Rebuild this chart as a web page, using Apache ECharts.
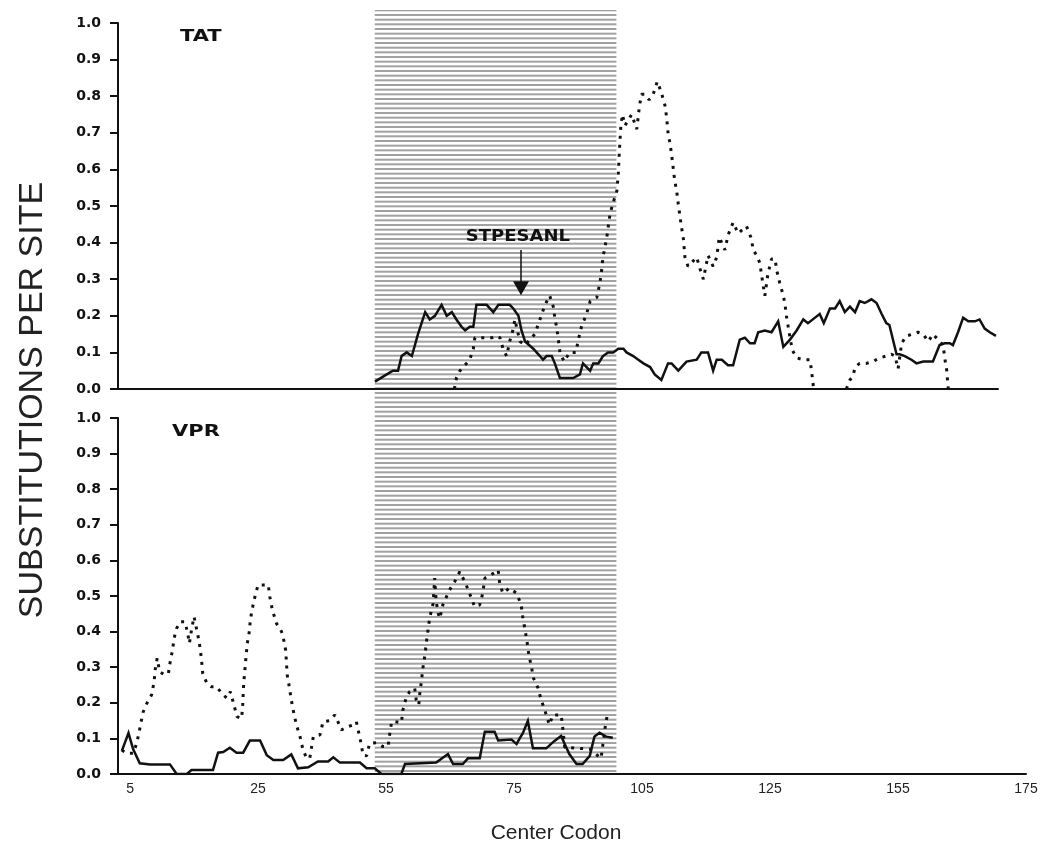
<!DOCTYPE html>
<html lang="en">
<head>
<meta charset="UTF-8">
<title>Substitutions per site</title>
<script src="https://cdn.jsdelivr.net/npm/echarts@6/dist/echarts.min.js"></script>
<style>
    html, body { margin: 0; padding: 0; background: #fff; }
    #main { width: 1043px; height: 844px; }
</style>
</head>
<body>
<div id="main"></div>
<script>
// x in codon units, ticks drawn every 25 but printed as in the original figure
var xTickValues = [5, 30, 55, 80, 105, 130, 155, 180];
var xTickLabels = ['5', '25', '55', '75', '105', '125', '155', '175'];
var xMin = 2.65, xMaxTop = 174.4, xMaxBottom = 180;
var shadeRange = [52.8, 100.0];
var arrowX = 81.3, arrowFrom = 0.38, arrowTo = 0.275;
var motifPos = [80.7, 0.415];

var tatSolid = [
    [52.8,0.02],[55.1,0.04],[56.3,0.05],[57.3,0.05],[58.0,0.09],[59.0,0.10],[60.0,0.09],[61.2,0.15],
    [62.6,0.21],[63.5,0.19],[64.5,0.20],[65.8,0.23],[66.8,0.20],[67.8,0.21],[68.7,0.19],[69.7,0.17],
    [70.4,0.16],[71.3,0.17],[72.0,0.17],[72.6,0.23],[73.3,0.23],[74.6,0.23],[75.9,0.21],[76.9,0.23],
    [77.8,0.23],[79.1,0.23],[79.8,0.22],[80.8,0.20],[81.4,0.16],[82.1,0.13],[83.7,0.11],[85.0,0.09],
    [85.6,0.08],[86.3,0.09],[87.3,0.09],[87.9,0.07],[88.9,0.03],[90.2,0.03],[91.5,0.03],[92.8,0.04],
    [93.4,0.07],[94.1,0.06],[94.8,0.05],[95.4,0.07],[96.4,0.07],[97.3,0.09],[98.3,0.10],[99.3,0.10],
    [100.3,0.11],[101.3,0.11],[101.9,0.10],[103.2,0.09],[104.2,0.08],[105.2,0.07],[106.5,0.06],[107.4,0.04],
    [108.7,0.025],[110.0,0.07],[110.7,0.07],[112.0,0.05],[113.6,0.075],[115.6,0.08],[116.5,0.10],[117.8,0.10],
    [118.8,0.05],[119.5,0.08],[120.5,0.08],[121.7,0.065],[122.7,0.065],[124.0,0.135],[125.0,0.14],[126.0,0.125],
    [126.9,0.125],[127.6,0.155],[128.9,0.16],[130.2,0.155],[131.5,0.185],[132.5,0.115],[133.8,0.135],[135.1,0.16],
    [136.4,0.19],[137.3,0.18],[138.7,0.195],[139.6,0.205],[140.4,0.18],[141.6,0.22],[142.6,0.22],[143.5,0.24],
    [144.5,0.21],[145.5,0.225],[146.5,0.21],[147.4,0.24],[148.4,0.235],[149.7,0.245],[150.7,0.235],[151.7,0.205],
    [152.6,0.18],[153.2,0.175],[154.6,0.095],[155.2,0.095],[156.2,0.09],[157.5,0.08],[158.5,0.07],[159.8,0.075],
    [161.7,0.075],[163.0,0.12],[164.0,0.125],[165.0,0.125],[165.6,0.12],[166.6,0.155],[167.6,0.195],[168.6,0.185],
    [169.9,0.185],[170.8,0.19],[171.8,0.165],[172.8,0.155],[174.0,0.145]
];

var tatDotted = [
    [68.3,0],[68.7,0.03],[69.4,0.05],[71.3,0.08],[72.0,0.11],[72.3,0.14],[73.3,0.14],[74.6,0.14],
    [75.6,0.14],[76.5,0.145],[77.2,0.14],[77.8,0.11],[78.5,0.09],[79.1,0.13],[79.8,0.165],[80.1,0.19],
    [81.1,0.13],[82.1,0.12],[83.0,0.135],[84.0,0.15],[85.0,0.19],[86.0,0.23],[86.9,0.255],[87.6,0.225],
    [87.9,0.195],[88.3,0.165],[88.6,0.135],[88.9,0.10],[89.7,0.075],[90.8,0.10],[92.0,0.10],[92.5,0.135],
    [93.1,0.17],[94.1,0.205],[94.8,0.24],[96.1,0.25],[96.7,0.29],[97.0,0.32],[97.3,0.36],[98.0,0.41],
    [98.7,0.48],[99.3,0.51],[100.0,0.54],[100.3,0.59],[100.5,0.65],[100.8,0.72],[101.1,0.75],[101.6,0.72],
    [102.9,0.75],[103.9,0.71],[104.4,0.77],[104.8,0.805],[105.5,0.805],[106.3,0.79],[107.1,0.805],[107.9,0.84],
    [108.7,0.81],[109.4,0.775],[109.7,0.745],[110.0,0.70],[110.4,0.67],[110.7,0.64],[111.0,0.605],[111.3,0.57],
    [111.7,0.54],[112.0,0.505],[112.3,0.475],[112.6,0.445],[113.0,0.41],[113.3,0.36],[113.9,0.335],[115.6,0.36],
    [116.2,0.33],[116.9,0.30],[117.8,0.365],[118.8,0.335],[119.5,0.36],[120.0,0.415],[121.1,0.38],[121.7,0.42],
    [122.7,0.455],[123.7,0.425],[125.3,0.445],[126.3,0.41],[126.6,0.38],[127.3,0.365],[127.9,0.345],[128.6,0.28],
    [128.9,0.255],[129.5,0.315],[130.2,0.355],[130.9,0.355],[131.2,0.325],[131.8,0.29],[132.4,0.26],[132.8,0.235],
    [133.1,0.20],[133.4,0.175],[133.8,0.14],[134.3,0.105],[135.1,0.085],[136.4,0.08],[137.7,0.08],[138.0,0.05],
    [138.3,0.015],[138.4,0],[141.5,'-'],
    [144.8,0],[145.5,0.025],[146.1,0.035],[146.5,0.06],[147.4,0.07],[148.7,0.07],[150.0,0.075],[151.3,0.085],
    [152.6,0.09],[153.6,0.095],[154.3,0.09],[154.9,0.055],[155.6,0.125],[156.5,0.145],[157.8,0.15],[158.8,0.155],
    [159.8,0.15],[160.8,0.13],[161.7,0.15],[162.7,0.135],[163.7,0.12],[164.0,0.085],[164.4,0.05],[164.6,0.015],
    [164.7,0]
];

var vprSolid = [
    [3.4,0.065],[4.7,0.115],[5.6,0.07],[6.9,0.03],[8.9,0.027],[12.8,0.027],[14.1,0],[16.1,0],
    [17.0,0.011],[21.2,0.011],[22.2,0.06],[23.2,0.062],[24.5,0.074],[25.8,0.06],[27.1,0.06],[28.4,0.094],
    [30.4,0.094],[31.7,0.053],[33.0,0.039],[34.9,0.039],[36.5,0.055],[37.8,0.016],[39.8,0.019],[41.7,0.035],
    [43.7,0.035],[44.7,0.047],[46.0,0.032],[49.9,0.032],[51.2,0.016],[52.8,0.016],[54.1,0],[58.0,0],
    [58.7,0.028],[64.8,0.032],[67.1,0.056],[68.1,0.028],[70.0,0.028],[71.0,0.044],[73.3,0.044],[74.3,0.119],
    [76.2,0.119],[76.9,0.094],[79.5,0.097],[80.5,0.084],[81.1,0.1],[81.7,0.114],[82.7,0.149],[83.7,0.072],
    [86.3,0.072],[87.9,0.093],[89.2,0.107],[89.9,0.084],[90.8,0.056],[92.2,0.028],[93.4,0.028],[94.8,0.051],
    [95.7,0.105],[96.7,0.116],[98.0,0.105],[99.3,0.102]
];

var vprDotted = [
    [3.4,0.067],[4.4,0.058],[5.6,0.058],[6.3,0.086],[6.8,0.119],[7.5,0.172],[8.3,0.199],[9.2,0.222],
    [9.7,0.259],[9.9,0.292],[10.3,0.325],[10.8,0.287],[11.8,0.278],[12.5,0.283],[12.8,0.311],[13.3,0.348],
    [13.6,0.381],[14.1,0.409],[14.8,0.428],[15.7,0.428],[16.2,0.4],[16.6,0.367],[17.0,0.404],[17.5,0.442],
    [17.9,0.414],[18.3,0.386],[18.7,0.353],[19.0,0.315],[19.2,0.283],[20.0,0.255],[20.9,0.245],[21.9,0.245],
    [22.9,0.227],[23.9,0.213],[24.6,0.231],[25.2,0.199],[25.9,0.161],[26.8,0.156],[27.0,0.194],[27.2,0.255],
    [27.6,0.32],[27.9,0.367],[28.3,0.4],[28.5,0.433],[28.9,0.466],[29.4,0.498],[30.0,0.531],[32.0,0.531],
    [32.3,0.498],[32.8,0.461],[33.6,0.423],[34.6,0.4],[34.9,0.386],[35.4,0.348],[35.7,0.278],[36.1,0.245],
    [36.5,0.208],[37.0,0.17],[37.5,0.138],[38.2,0.105],[38.8,0.067],[39.5,0.044],[40.1,0.044],[40.8,0.105],
    [42.1,0.11],[42.7,0.147],[44.0,0.15],[45.0,0.166],[45.6,0.147],[46.3,0.124],[47.3,0.132],[48.6,0.138],
    [49.2,0.147],[49.7,0.114],[50.2,0.081],[50.5,0.053],[51.2,0.051],[51.8,0.086],[53.1,0.088],[54.4,0.077],
    [55.4,0.077],[55.7,0.11],[56.1,0.147],[56.7,0.147],[58.0,0.144],[58.3,0.18],[59.0,0.217],[59.6,0.231],
    [60.6,0.241],[60.9,0.208],[61.4,0.194],[61.6,0.227],[61.9,0.259],[62.2,0.297],[62.6,0.334],[62.9,0.372],
    [63.2,0.404],[63.5,0.437],[64.2,0.479],[64.5,0.55],[64.8,0.484],[65.2,0.451],[65.5,0.437],[66.1,0.475],
    [67.4,0.517],[68.4,0.54],[69.4,0.568],[70.4,0.54],[71.3,0.508],[72.3,0.47],[73.3,0.475],[73.9,0.508],
    [74.3,0.55],[75.9,0.563],[76.9,0.573],[77.2,0.537],[77.8,0.508],[79.1,0.522],[80.5,0.508],[81.4,0.475],
    [81.7,0.442],[82.1,0.409],[82.5,0.376],[82.9,0.334],[83.4,0.301],[83.8,0.269],[84.7,0.241],[85.3,0.208],
    [86.0,0.18],[86.6,0.152],[86.9,0.138],[87.6,0.166],[89.2,0.166],[89.5,0.133],[89.9,0.075],[94.8,0.07],
    [97.0,0.044],[97.3,0.077],[97.9,0.142],[98.3,0.17]
];

// horizontal hatching used for the shaded codon window
function hatch() {
    var c = document.createElement('canvas');
    c.width = 8;
    c.height = 14;
    var ctx = c.getContext('2d');
    ctx.fillStyle = '#ffffff';
    ctx.fillRect(0, 0, 8, 14);
    ctx.fillStyle = '#a2a2a2';
    [0, 4.67, 9.33].forEach(function (y) { ctx.fillRect(0, y, 8, 2); });
    return c;
}

var ink = '#111';

function valueYAxis(gridIndex) {
    return {
        gridIndex: gridIndex,
        type: 'value',
        min: 0,
        max: 1,
        interval: 0.1,
        z: 4,
        axisLine: { show: true, lineStyle: { color: ink, width: 2 } },
        axisTick: { show: true, length: 8, lineStyle: { color: ink, width: 2 } },
        axisLabel: {
            margin: 17,
            color: ink,
            fontFamily: 'DejaVu Sans',
            fontWeight: 'bold',
            fontSize: 14,
            formatter: function (v) { return v.toFixed(1); }
        },
        splitLine: { show: false }
    };
}

function solid(data, idx) {
    return {
        type: 'line', xAxisIndex: idx, yAxisIndex: idx, data: data,
        showSymbol: false, z: 5, silent: true,
        lineStyle: { color: ink, width: 2.5, join: 'miter' }
    };
}

function dotted(data, idx) {
    return {
        type: 'line', xAxisIndex: idx, yAxisIndex: idx, data: data,
        showSymbol: false, z: 5, silent: true,
        lineStyle: { color: ink, width: 3, type: [3, 6], cap: 'butt' }
    };
}

var myChart = echarts.init(document.getElementById('main'));

var tatLine = solid(tatSolid, 0);
tatLine.markLine = {
    silent: true,
    symbol: ['none', 'triangle'],
    symbolSize: [16, 14],
    lineStyle: { color: ink, width: 1.5, type: 'solid' },
    label: { show: false },
    data: [[{ coord: [arrowX, arrowFrom] }, { coord: [arrowX, arrowTo] }]]
};

var option = {
    animation: false,
    backgroundColor: '#ffffff',
    grid: [
        { left: 118, right: 45, top: 23, bottom: 455 },
        { left: 118, right: 17, top: 418, bottom: 70 },
        { left: 118, right: 17, top: 10, bottom: 69 }
    ],
    xAxis: [
        {
            gridIndex: 0, type: 'value', min: xMin, max: xMaxTop, z: 4,
            axisLine: { lineStyle: { color: ink, width: 2 } },
            axisTick: { show: false },
            axisLabel: { show: false },
            splitLine: { show: false }
        },
        {
            gridIndex: 1, type: 'value', min: xMin, max: xMaxBottom, z: 4,
            axisLine: { lineStyle: { color: ink, width: 2 } },
            axisTick: { show: false },
            axisLabel: {
                customValues: xTickValues,
                margin: 8,
                color: '#222',
                fontFamily: 'Liberation Sans',
                fontSize: 14,
                formatter: function (v) { return xTickLabels[xTickValues.indexOf(v)]; }
            },
            splitLine: { show: false }
        },
        { gridIndex: 2, type: 'value', min: xMin, max: xMaxBottom, show: false }
    ],
    yAxis: [
        valueYAxis(0),
        valueYAxis(1),
        { gridIndex: 2, type: 'value', min: 0, max: 1, show: false }
    ],
    series: [
        {
            type: 'line', xAxisIndex: 2, yAxisIndex: 2, z: 1, silent: true,
            data: [[shadeRange[0], 0]], showSymbol: false,
            lineStyle: { opacity: 0 },
            markArea: {
                silent: true,
                itemStyle: { color: { image: hatch(), repeat: 'repeat' } },
                data: [[{ xAxis: shadeRange[0] }, { xAxis: shadeRange[1] }]]
            }
        },
        tatLine,
        dotted(tatDotted, 0),
        solid(vprSolid, 1),
        dotted(vprDotted, 1)
    ]
};
myChart.setOption(option);

var motif = myChart.convertToPixel({ gridIndex: 0 }, motifPos);
myChart.setOption({
    graphic: [
        {
            type: 'text', x: 33, y: 400, rotation: Math.PI / 2,
            style: {
                text: 'SUBSTITUTIONS PER SITE', font: '34px "Liberation Sans"', fill: '#222',
                textAlign: 'center', textVerticalAlign: 'middle', align: 'center', verticalAlign: 'middle'
            }
        },
        {
            type: 'text', x: 556, y: 833,
            style: {
                text: 'Center Codon', font: '21px "Liberation Sans"', fill: '#222',
                textAlign: 'center', textVerticalAlign: 'middle', align: 'center', verticalAlign: 'middle'
            }
        },
        {
            type: 'text', x: 180, y: 37, scaleX: 1.4,
            style: {
                text: 'TAT', font: 'bold 15px "DejaVu Sans"', fill: ink,
                textAlign: 'left', textVerticalAlign: 'middle', align: 'left', verticalAlign: 'middle'
            }
        },
        {
            type: 'text', x: 172, y: 432, scaleX: 1.4,
            style: {
                text: 'VPR', font: 'bold 15px "DejaVu Sans"', fill: ink,
                textAlign: 'left', textVerticalAlign: 'middle', align: 'left', verticalAlign: 'middle'
            }
        },
        {
            type: 'text', x: motif[0], y: motif[1], scaleX: 1.2, z: 10,
            style: {
                text: 'STPESANL', font: 'bold 15px "DejaVu Sans"', fill: ink,
                textAlign: 'center', textVerticalAlign: 'middle', align: 'center', verticalAlign: 'middle'
            }
        }
    ]
});
</script>
</body>
</html>
